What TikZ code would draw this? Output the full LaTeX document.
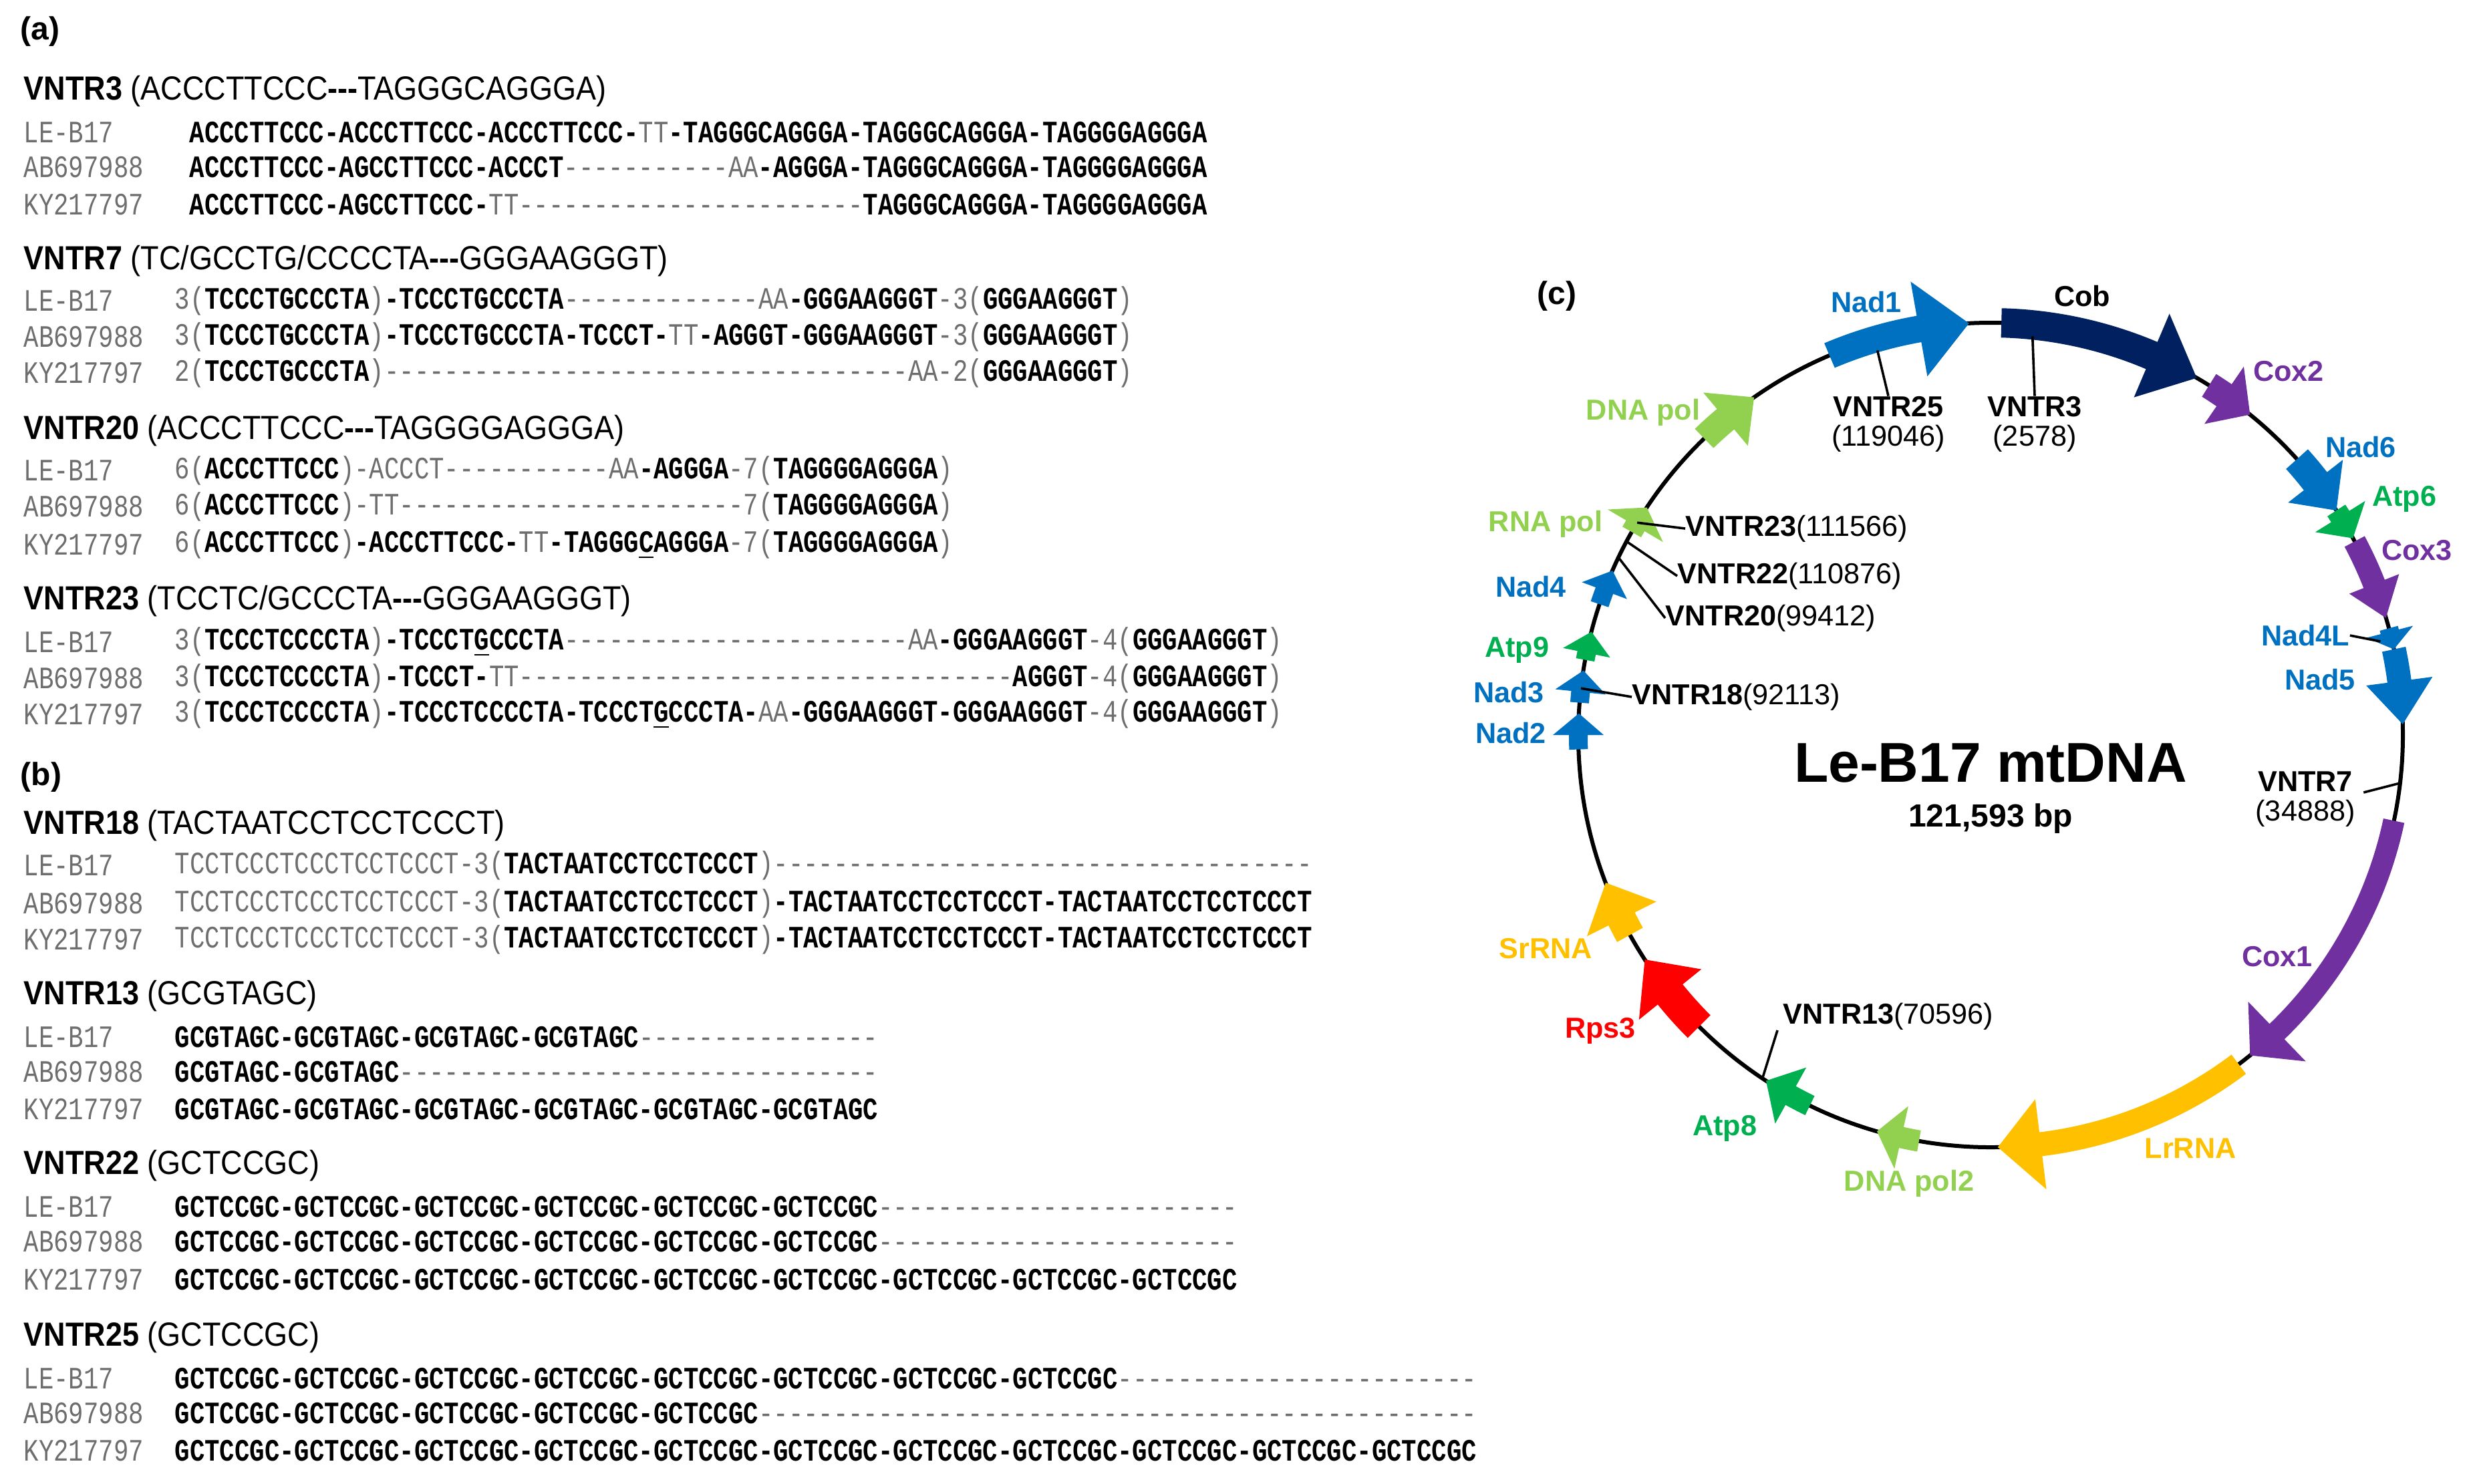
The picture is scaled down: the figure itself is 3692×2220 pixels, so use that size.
\documentclass[tikz,border=0pt]{standalone}
\usepackage{fontspec}
\setmainfont{Liberation Sans}
\newfontfamily\sq[Ligatures=TeXOff]{Liberation Mono}
\newfontfamily\hd[Ligatures=TeXOff]{Liberation Sans}
\definecolor{sgray}{RGB}{110,110,110}
\definecolor{cblue}{RGB}{0,112,192}
\definecolor{cnavy}{RGB}{0,32,96}
\definecolor{cpurp}{RGB}{112,48,160}
\definecolor{cgreen}{RGB}{0,176,80}
\definecolor{clgreen}{RGB}{146,208,80}
\definecolor{cyell}{RGB}{255,192,0}
\definecolor{cred}{RGB}{255,0,0}
\newcommand\G[1]{{\color{sgray}\fontseries{m}\selectfont#1}}
\newcommand\Dsh[1]{\foreach\i in {1,...,#1}{-}}
\newcommand\gc{GCTCCGC}
\tikzset{
 seq/.style={anchor=west,inner sep=0pt,font=\sq\bfseries\fontsize{9.33}{10}\selectfont,yscale=1.25,transform shape},
 lab/.style={seq,font=\sq\fontsize{9.33}{10}\selectfont,text=sgray},
 hdr/.style={anchor=west,inner sep=0pt,font=\hd\fontsize{12.5}{14}\selectfont,xscale=0.9,transform shape},
 panel/.style={anchor=west,inner sep=0pt,font=\hd\bfseries\fontsize{12}{14}\selectfont},
 gl/.style={inner sep=0pt,font=\hd\bfseries\fontsize{10.8}{12}\selectfont},
 tick/.style={line width=0.9pt}
}
\newcommand\gene[6]{%
 \pgfmathsetmacro\hb{#2+#5}%
 \fill[#6] (#1:617+#3) arc[start angle=#1,end angle=\hb,radius=617+#3] -- (\hb:617+#4) -- (#2:617) -- (\hb:617-#4) -- (\hb:617-#3) arc[start angle=\hb,end angle=#1,radius=617-#3] -- cycle;}
\begin{document}
\begin{tikzpicture}[x=0.25pt,y=-0.25pt]
\useasboundingbox (0,0) rectangle (3692,2220);
% ---------- (a)
\node[panel] (pa) at (30,47) {(a)};
\node[hdr] (h3) at (35,137) {\textbf{VNTR3} (ACCCTTCCC\textbf{---}TAGGGCAGGGA)};
\node[lab] (l3a) at (35,198) {LE-B17};
\node[lab] (l3b) at (35,250) {AB697988};
\node[lab] (l3c) at (35,306) {KY217797};
\node[seq] (r3a) at (283,198) {ACCCTTCCC-ACCCTTCCC-ACCCTTCCC-\G{TT}-TAGGGCAGGGA-TAGGGCAGGGA-TAGGGGAGGGA};
\node[seq] (r3b) at (283,250) {ACCCTTCCC-AGCCTTCCC-ACCCT\G{\Dsh{11}AA}-AGGGA-TAGGGCAGGGA-TAGGGGAGGGA};
\node[seq] (r3c) at (283,306) {ACCCTTCCC-AGCCTTCCC-\G{TT\Dsh{23}}TAGGGCAGGGA-TAGGGGAGGGA};

\node[hdr] (h7) at (35,391) {\textbf{VNTR7} (TC/GCCTG/CCCCTA\textbf{---}GGGAAGGGT)};
\node[lab] (l7a) at (35,450) {LE-B17};
\node[lab] (l7b) at (35,504) {AB697988};
\node[lab] (l7c) at (35,558) {KY217797};
\node[seq] (r7a) at (261,450) {\G{3(}TCCCTGCCCTA\G{)}-TCCCTGCCCTA\G{\Dsh{13}AA}-GGGAAGGGT\G{-3(}GGGAAGGGT\G{)}};
\node[seq] (r7b) at (261,504) {\G{3(}TCCCTGCCCTA\G{)}-TCCCTGCCCTA-TCCCT-\G{TT}-AGGGT-GGGAAGGGT\G{-3(}GGGAAGGGT\G{)}};
\node[seq] (r7c) at (261,558) {\G{2(}TCCCTGCCCTA\G{)\Dsh{35}AA-2(}GGGAAGGGT\G{)}};

\node[hdr] (h20) at (35,645) {\textbf{VNTR20} (ACCCTTCCC\textbf{---}TAGGGGAGGGA)};
\node[lab] (l20a) at (35,704) {LE-B17};
\node[lab] (l20b) at (35,758) {AB697988};
\node[lab] (l20c) at (35,815) {KY217797};
\node[seq] (r20a) at (261,704) {\G{6(}ACCCTTCCC\G{)-ACCCT\Dsh{11}AA}-AGGGA\G{-7(}TAGGGGAGGGA\G{)}};
\node[seq] (r20b) at (261,758) {\G{6(}ACCCTTCCC\G{)-TT\Dsh{23}7(}TAGGGGAGGGA\G{)}};
\node[seq] (r20c) at (261,815) {\G{6(}ACCCTTCCC\G{)}-ACCCTTCCC-\G{TT}-TAGGG\underline{C}AGGGA\G{-7(}TAGGGGAGGGA\G{)}};

\node[hdr] (h23) at (35,900) {\textbf{VNTR23} (TCCTC/GCCCTA\textbf{---}GGGAAGGGT)};
\node[lab] (l23a) at (35,961) {LE-B17};
\node[lab] (l23b) at (35,1015) {AB697988};
\node[lab] (l23c) at (35,1069) {KY217797};
\node[seq] (r23a) at (261,961) {\G{3(}TCCCTCCCCTA\G{)}-TCCCT\underline{G}CCCTA\G{\Dsh{23}AA}-GGGAAGGGT\G{-4(}GGGAAGGGT\G{)}};
\node[seq] (r23b) at (261,1015) {\G{3(}TCCCTCCCCTA\G{)}-TCCCT-\G{TT\Dsh{33}}AGGGT\G{-4(}GGGAAGGGT\G{)}};
\node[seq] (r23c) at (261,1069) {\G{3(}TCCCTCCCCTA\G{)}-TCCCTCCCCTA-TCCCT\underline{G}CCCTA-\G{AA}-GGGAAGGGT-GGGAAGGGT\G{-4(}GGGAAGGGT\G{)}};
% ---------- (b)
\node[panel] (pb) at (30,1163) {(b)};
\node[hdr] (h18) at (35,1236) {\textbf{VNTR18} (TACTAATCCTCCTCCCT)};
\node[lab] (l18a) at (35,1295) {LE-B17};
\node[lab] (l18b) at (35,1352) {AB697988};
\node[lab] (l18c) at (35,1406) {KY217797};
\node[seq] (r18a) at (261,1295) {\G{TCCTCCCTCCCTCCTCCCT-3(}TACTAATCCTCCTCCCT\G{)\Dsh{36}}};
\node[seq] (r18b) at (261,1352) {\G{TCCTCCCTCCCTCCTCCCT-3(}TACTAATCCTCCTCCCT\G{)}-TACTAATCCTCCTCCCT-TACTAATCCTCCTCCCT};
\node[seq] (r18c) at (261,1406) {\G{TCCTCCCTCCCTCCTCCCT-3(}TACTAATCCTCCTCCCT\G{)}-TACTAATCCTCCTCCCT-TACTAATCCTCCTCCCT};

\node[hdr] (h13) at (35,1491) {\textbf{VNTR13} (GCGTAGC)};
\node[lab] (l13a) at (35,1552) {LE-B17};
\node[lab] (l13b) at (35,1604) {AB697988};
\node[lab] (l13c) at (35,1660) {KY217797};
\node[seq] (r13a) at (261,1552) {GCGTAGC-GCGTAGC-GCGTAGC-GCGTAGC\G{\Dsh{16}}};
\node[seq] (r13b) at (261,1604) {GCGTAGC-GCGTAGC\G{\Dsh{32}}};
\node[seq] (r13c) at (261,1660) {GCGTAGC-GCGTAGC-GCGTAGC-GCGTAGC-GCGTAGC-GCGTAGC};

\node[hdr] (h22) at (35,1745) {\textbf{VNTR22} (GCTCCGC)};
\node[lab] (l22a) at (35,1806) {LE-B17};
\node[lab] (l22b) at (35,1858) {AB697988};
\node[lab] (l22c) at (35,1915) {KY217797};
\node[seq] (r22a) at (261,1806) {\gc-\gc-\gc-\gc-\gc-\gc\G{\Dsh{24}}};
\node[seq] (r22b) at (261,1858) {\gc-\gc-\gc-\gc-\gc-\gc\G{\Dsh{24}}};
\node[seq] (r22c) at (261,1915) {\gc-\gc-\gc-\gc-\gc-\gc-\gc-\gc-\gc};

\node[hdr] (h25) at (35,2002) {\textbf{VNTR25} (GCTCCGC)};
\node[lab] (l25a) at (35,2063) {LE-B17};
\node[lab] (l25b) at (35,2115) {AB697988};
\node[lab] (l25c) at (35,2171) {KY217797};
\node[seq] (r25a) at (261,2063) {\gc-\gc-\gc-\gc-\gc-\gc-\gc-\gc\G{\Dsh{24}}};
\node[seq] (r25b) at (261,2115) {\gc-\gc-\gc-\gc-\gc\G{\Dsh{48}}};
\node[seq] (r25c) at (261,2171) {\gc-\gc-\gc-\gc-\gc-\gc-\gc-\gc-\gc-\gc-\gc};
% ---------- (c)
\node[panel] (pc) at (2300,443) {(c)};
\begin{scope}[shift={(2979,1100)},y=0.25pt]
\draw[line width=1.5pt] (0,0) circle[radius=617];
\gene{113}{93}{20}{72}{7}{cblue}      % Nad1
\gene{88.5}{60}{22}{68}{7}{cnavy}     % Cob
\gene{58}{51}{20}{52}{4.5}{cpurp}     % Cox2
\gene{42}{33}{22}{52}{5}{cblue}       % Nad6
\gene{33}{28.5}{16}{44}{3.5}{cgreen}  % Atp6
\gene{28}{16.5}{17}{40}{5}{cpurp}     % Cox3
\gene{15}{12}{14}{36}{2.5}{cblue}     % Nad4L
\gene{12}{1.5}{18}{50}{6}{cblue}      % Nad5
\gene{-12}{-51}{16}{62}{5}{cpurp}     % Cox1
\gene{-53}{-89}{18}{68}{6}{cyell}     % LrRNA
\gene{-100}{-106}{16}{48}{3.5}{clgreen} % DNA pol2
\gene{-116}{-123}{16}{48}{4}{cgreen}  % Atp8
\gene{225}{213}{24}{60}{6}{cred}      % Rps3
\gene{209}{201}{22}{58}{5.5}{cyell}   % SrRNA
\gene{182}{177}{14}{38}{3}{cblue}     % Nad2
\gene{175.5}{171}{14}{38}{3}{cblue}   % Nad3
\gene{169.5}{165.5}{14}{36}{3}{cgreen} % Atp9
\gene{161.5}{156.5}{14}{36}{3}{cblue} % Nad4
\gene{150.5}{146.5}{16}{48}{3}{clgreen} % RNA pol
\gene{134}{125}{20}{52}{5}{clgreen}   % DNA pol
\coordinate (p25) at (106.4:600);
\coordinate (p3) at (84:600);
\coordinate (p23) at (149:617);
\coordinate (p22) at (152:617);
\coordinate (p20) at (154.5:617);
\coordinate (p18) at (173.5:617);
\coordinate (p13) at (-123.6:617);
\coordinate (p7) at (-6.7:617);
\coordinate (p4L) at (13.5:600);
\end{scope}
\node[gl,text=cblue] (gNad1) at (2793,452) {Nad1};
\node[gl] (gCob) at (3116,443) {Cob};
\node[gl,text=cpurp] (gCox2) at (3425,556) {Cox2};
\node[gl,text=cblue] (gNad6) at (3533,669) {Nad6};
\node[gl,text=cgreen] (gAtp6) at (3598,747) {Atp6};
\node[gl,text=cpurp] (gCox3) at (3617,824) {Cox3};
\node[gl,text=cblue] (gNad4L) at (3450,951) {Nad4L};
\node[gl,text=cblue] (gNad5) at (3472,1017) {Nad5};
\node[gl,text=cpurp] (gCox1) at (3408,1432) {Cox1};
\node[gl,text=cyell] (gLr) at (3278,1719) {LrRNA};
\node[gl,text=clgreen] (gDp2) at (2857,1771) {DNA pol2};
\node[gl,text=cgreen] (gAtp8) at (2581,1689) {Atp8};
\node[gl,text=cred] (gRps3) at (2395,1543) {Rps3};
\node[gl,text=cyell] (gSr) at (2313,1420) {SrRNA};
\node[gl,text=cblue] (gNad2) at (2261,1097) {Nad2};
\node[gl,text=cblue] (gNad3) at (2258,1036) {Nad3};
\node[gl,text=cgreen] (gAtp9) at (2270,973) {Atp9};
\node[gl,text=cblue] (gNad4) at (2291,878) {Nad4};
\node[gl,text=clgreen] (gRp) at (2313,784) {RNA pol};
\node[gl,text=clgreen] (gDp) at (2459,617) {DNA pol};
\node[gl,align=center] (v25) at (2826,635) {VNTR25\\[-1pt]\mdseries(119046)};
\node[gl,align=center] (v3) at (3045,635) {VNTR3\\[-1pt]\mdseries(2578)};
\node[gl,anchor=west] (v23) at (2522,791) {VNTR23\mdseries(111566)};
\node[gl,anchor=west] (v22) at (2510,862) {VNTR22\mdseries(110876)};
\node[gl,anchor=west] (v20) at (2492,925) {VNTR20\mdseries(99412)};
\node[gl,anchor=west] (v18) at (2442,1043) {VNTR18\mdseries(92113)};
\node[gl,anchor=west] (v13) at (2668,1521) {VNTR13\mdseries(70596)};
\node[gl,align=center] (v7) at (3450,1196) {VNTR7\\[-1pt]\mdseries(34888)};
\node[inner sep=0pt,font=\hd\bfseries\fontsize{21}{24}\selectfont] (title) at (2979,1142) {Le-B17 mtDNA};
\node[gl,font=\hd\bfseries\fontsize{12}{14}\selectfont] (bp) at (2979,1225) {121,593 bp};
\draw[tick] (p25) -- (v25.north);
\draw[tick] (p3) -- (v3.north);
\draw[tick] (p23) -- (v23.west);
\draw[tick] (p22) -- (v22.west);
\draw[tick] (p20) -- (v20.west);
\draw[tick] (p18) -- (v18.west);
\draw[tick] (p13) -- ([xshift=-2pt]v13.south west);
\draw[tick] ([xshift=3pt,yshift=2.5pt]v7.east) -- (p7);
\draw[tick] (gNad4L.east) -- (p4L);
\end{tikzpicture}
\end{document}
